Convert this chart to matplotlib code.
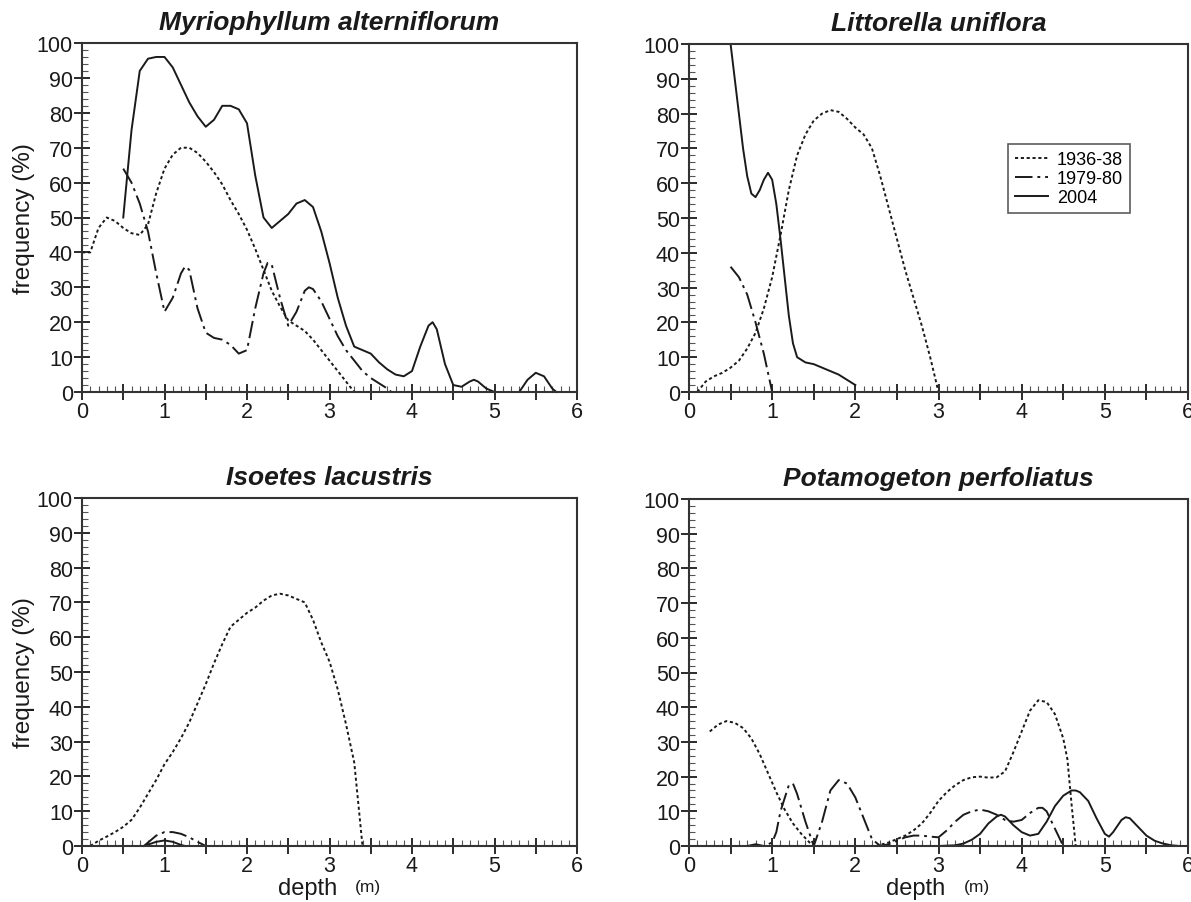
import matplotlib
matplotlib.use("Agg")
import matplotlib.pyplot as plt
from matplotlib.ticker import MultipleLocator

plt.rcParams["font.family"] = ["Liberation Sans", "DejaVu Sans"]

# ---- Myriophyllum alterniflorum ----
myr_d_1936 = [0, 0.1, 0.2, 0.3, 0.4, 0.5, 0.6, 0.7, 0.8, 0.9, 1.0, 1.1, 1.2, 1.3, 1.4, 1.5, 1.6,
              1.7, 1.8, 1.9, 2.0, 2.1, 2.2, 2.3, 2.4, 2.5, 2.6, 2.7, 2.8, 2.9, 3.0, 3.1, 3.2, 3.3]
myr_f_1936 = [40, 40, 47, 50, 49, 47, 45.5, 45, 48, 57, 64, 68, 70, 70, 68.5, 66, 63,
              59.5, 55, 51, 46.5, 41, 35, 29, 24.5, 20.5, 19, 17.5, 15, 12, 9, 6, 3, 0]
myr_d_1979 = [0.5, 0.6, 0.7, 0.8, 0.9, 1.0, 1.1, 1.2, 1.25, 1.3, 1.4, 1.5, 1.6, 1.7, 1.8, 1.9, 2.0,
              2.1, 2.2, 2.25, 2.3, 2.4, 2.5, 2.6, 2.7, 2.75, 2.8, 2.9, 3.0, 3.1, 3.2, 3.3, 3.4,
              3.5, 3.6, 3.7, 3.75]
myr_f_1979 = [64, 60, 54, 46, 34, 23, 27, 34, 36, 35, 24, 17, 15.5, 15, 13.5, 11, 12,
              24, 34, 37, 36.5, 27, 19, 23, 29, 30, 29.5, 26, 21, 16, 12, 9, 6,
              4, 2.5, 1, 0]
myr_d_2004 = [0.5, 0.6, 0.7, 0.8, 0.9, 1.0, 1.1, 1.2, 1.3, 1.4, 1.5, 1.6, 1.7, 1.8, 1.9, 2.0,
              2.1, 2.2, 2.3, 2.4, 2.5, 2.6, 2.7, 2.8, 2.9, 3.0, 3.1, 3.2, 3.3, 3.4, 3.5, 3.6,
              3.7, 3.8, 3.9, 4.0, 4.1, 4.2, 4.25, 4.3, 4.4, 4.5, 4.6, 4.7, 4.75, 4.8, 4.9,
              5.0, 5.3, 5.4, 5.5, 5.6, 5.7, 5.75]
myr_f_2004 = [50, 75, 92, 95.5, 96, 96, 93, 88, 83, 79, 76, 78, 82, 82, 81, 77,
              62, 50, 47, 49, 51, 54, 55, 53, 46, 37, 27, 19, 13, 12, 11, 8.5,
              6.5, 5, 4.5, 6, 13, 19, 20, 18, 8, 2, 1.5, 3, 3.5, 3, 1,
              0, 0, 3.5, 5.5, 4.5, 1, 0]

# ---- Littorella uniflora ----
lit_d_1936 = [0.1, 0.2, 0.3, 0.4, 0.5, 0.6, 0.7, 0.8, 0.9, 1.0, 1.1, 1.2, 1.3, 1.4, 1.5, 1.6,
              1.7, 1.8, 1.9, 2.0, 2.1, 2.2, 2.3, 2.4, 2.5, 2.6, 2.7, 2.8, 2.9, 3.0]
lit_f_1936 = [0, 3, 4.5, 5.5, 7, 9, 12.5, 17, 24, 33, 45, 58, 68, 74, 78, 80,
              81, 80.5, 78.5, 76, 74, 70, 62, 53, 44, 35, 27, 19, 10, 0]
lit_d_1979 = [0.5, 0.6, 0.7, 0.8, 0.9, 1.0]
lit_f_1979 = [36, 33, 28, 20, 11, 0]
lit_d_2004 = [0.5, 0.55, 0.6, 0.65, 0.7, 0.75, 0.8, 0.85, 0.9, 0.95, 1.0, 1.05, 1.1, 1.15,
              1.2, 1.25, 1.3, 1.4, 1.5, 1.6, 1.7, 1.8, 1.9, 2.0]
lit_f_2004 = [100, 90, 80, 70, 62, 57, 56, 58, 61, 63, 61, 54, 44, 33,
              22, 14, 10, 8.5, 8, 7, 6, 5, 3.5, 2]

# ---- Isoetes lacustris ----
iso_d_1936 = [0.1, 0.2, 0.3, 0.4, 0.5, 0.6, 0.7, 0.8, 0.9, 1.0, 1.1, 1.2, 1.3, 1.4, 1.5, 1.6,
              1.7, 1.8, 1.9, 2.0, 2.1, 2.2, 2.3, 2.4, 2.5, 2.6, 2.7, 2.8, 2.9, 3.0, 3.1, 3.2,
              3.3, 3.35, 3.4]
iso_f_1936 = [0, 1.5, 2.7, 4, 5.5, 7.5, 11, 15, 19, 23.5, 27, 31, 35.5, 41, 46.5, 52.5,
              58, 63, 65, 67, 68.5, 70.5, 72, 72.5, 72, 71, 70, 65, 58.5, 53, 45, 35,
              24, 12, 0]
iso_d_1979 = [0.75, 0.9, 1.0, 1.1, 1.2, 1.3, 1.4, 1.5]
iso_f_1979 = [0, 3, 4, 4, 3.5, 2.5, 1.2, 0]
iso_d_2004 = [0.75, 0.9, 1.0, 1.1, 1.2, 1.25]
iso_f_2004 = [0, 1.2, 1.6, 1.2, 0.3, 0]

# ---- Potamogeton perfoliatus ----
pot_d_1936 = [0.25, 0.35, 0.45, 0.55, 0.65, 0.75, 0.85, 0.95, 1.05, 1.15, 1.25, 1.35, 1.45, 1.5,
              2.25, 2.4, 2.5, 2.6, 2.7, 2.8, 2.9, 3.0, 3.1, 3.2, 3.3, 3.4, 3.5, 3.6, 3.7,
              3.8, 3.9, 4.0, 4.1, 4.2, 4.3, 4.4, 4.5, 4.55, 4.6, 4.65]
pot_f_1936 = [33, 35, 36, 35.5, 34, 31, 26.5, 21, 15.5, 10.5, 6.5, 3.5, 1, 0,
              0, 1, 2, 3, 4.5, 6.5, 9.5, 13, 15.5, 17.5, 19, 19.8, 20, 19.7, 19.8,
              21.5, 27, 33, 39, 42, 41.5, 38, 31, 25, 12, 0]
pot_d_1979 = [0.7, 0.8, 0.9, 1.0, 1.05, 1.1, 1.2, 1.25, 1.3, 1.4, 1.5, 1.6, 1.7, 1.8, 1.9, 2.0,
              2.1, 2.2, 2.3, 2.4, 2.5, 2.6, 2.7, 2.8, 2.9, 3.0, 3.1, 3.2, 3.3, 3.4, 3.5,
              3.6, 3.7, 3.8, 3.9, 4.0, 4.1, 4.2, 4.25, 4.3, 4.4, 4.5]
pot_f_1979 = [0, 0.5, 0, 1, 4, 10, 17.5, 18, 15, 7, 0, 7, 16, 19, 18, 14,
              8, 2, 0, 0.5, 1.5, 2.5, 3, 3, 2.7, 2.5, 4.5, 7, 9, 10, 10.5,
              10, 9, 7.5, 7, 7.5, 9.5, 11, 11, 10, 5, 0]
pot_d_2004 = [3.0, 3.2, 3.3, 3.4, 3.5, 3.6, 3.7, 3.75, 3.8, 3.9, 4.0, 4.1, 4.2, 4.3, 4.4, 4.5,
              4.6, 4.65, 4.7, 4.8, 4.9, 5.0, 5.05, 5.1, 5.2, 5.25, 5.3, 5.4, 5.5, 5.6, 5.7,
              5.8, 5.9]
pot_f_2004 = [0, 0.2, 0.7, 1.8, 3.5, 6.5, 8.5, 9, 8.5, 6, 4, 3, 3.5, 7, 11.5, 14.5,
              16, 16, 15.5, 13, 8, 3.5, 2.7, 4, 7.5, 8.3, 8, 5.5, 3, 1.5, 0.7,
              0.2, 0]

titles = ["Myriophyllum alterniflorum", "Littorella uniflora",
          "Isoetes lacustris", "Potamogeton perfoliatus"]
series_labels = ["1936-38", "1979-80", "2004"]

panels = [
    [(myr_d_1936, myr_f_1936), (myr_d_1979, myr_f_1979), (myr_d_2004, myr_f_2004)],
    [(lit_d_1936, lit_f_1936), (lit_d_1979, lit_f_1979), (lit_d_2004, lit_f_2004)],
    [(iso_d_1936, iso_f_1936), (iso_d_1979, iso_f_1979), (iso_d_2004, iso_f_2004)],
    [(pot_d_1936, pot_f_1936), (pot_d_1979, pot_f_1979), (pot_d_2004, pot_f_2004)],
]

styles = [(0, (1.6, 1.4)), (0, (9, 2.5, 1.5, 2.5)), "-"]

W, H = 1191, 903
fig = plt.figure(figsize=(W / 100, H / 100), dpi=100)

# axes boxes in pixels: left, right, top, bottom
boxes = [(82, 577, 44, 393), (689, 1188, 45, 393),
         (82, 577, 499, 847), (689, 1188, 500, 847)]

ink = "#1a1a1a"
axes = []
for i, (l, r, t, b) in enumerate(boxes):
    ax = fig.add_axes([l / W, 1 - b / H, (r - l) / W, (b - t) / H])
    axes.append(ax)
    for (d, f), ls, lab in zip(panels[i], styles, series_labels):
        ax.plot(d, f, color=ink, linestyle=ls, linewidth=1.4, label=lab, clip_on=False)
    ax.set_xlim(0, 6)
    ax.set_ylim(0, 100)
    ax.xaxis.set_major_locator(MultipleLocator(0.5))
    ax.xaxis.set_minor_locator(MultipleLocator(0.1))
    ax.set_xticklabels([("%d" % v) if abs(v - round(v)) < 1e-6 else ""
                        for v in ax.get_xticks()])
    ax.yaxis.set_major_locator(MultipleLocator(10))
    ax.yaxis.set_minor_locator(MultipleLocator(2))
    ax.tick_params(which="major", direction="inout", length=11, width=1.3,
                   labelsize=15.5, colors=ink, pad=1)
    ax.tick_params(which="minor", direction="in", length=4, width=0.8, colors="#555555")
    for s in ax.spines.values():
        s.set_linewidth(1.5)
        s.set_color("#333333")
    ax.set_title(titles[i], fontsize=19, fontweight="bold", style="italic",
                 color=ink, pad=10)
    if i in (0, 2):
        ax.set_ylabel("frequency (%)", fontsize=17.5, color=ink, labelpad=1)
    if i in (2, 3):
        ax.text(0.455, -0.122, "depth", transform=ax.transAxes, fontsize=17,
                ha="center", va="center", color=ink)
        ax.text(0.578, -0.117, "(m)", transform=ax.transAxes, fontsize=12.5,
                ha="center", va="center", color=ink)

leg = axes[1].legend(loc="upper left", bbox_to_anchor=(0.621, 0.738), fontsize=13,
                     frameon=True, fancybox=False, handlelength=1.8,
                     handletextpad=0.5, borderpad=0.4, labelspacing=0.1)
leg.get_frame().set_edgecolor("#333333")
leg.get_frame().set_linewidth(1.2)

fig.savefig("out.png", dpi=100)
